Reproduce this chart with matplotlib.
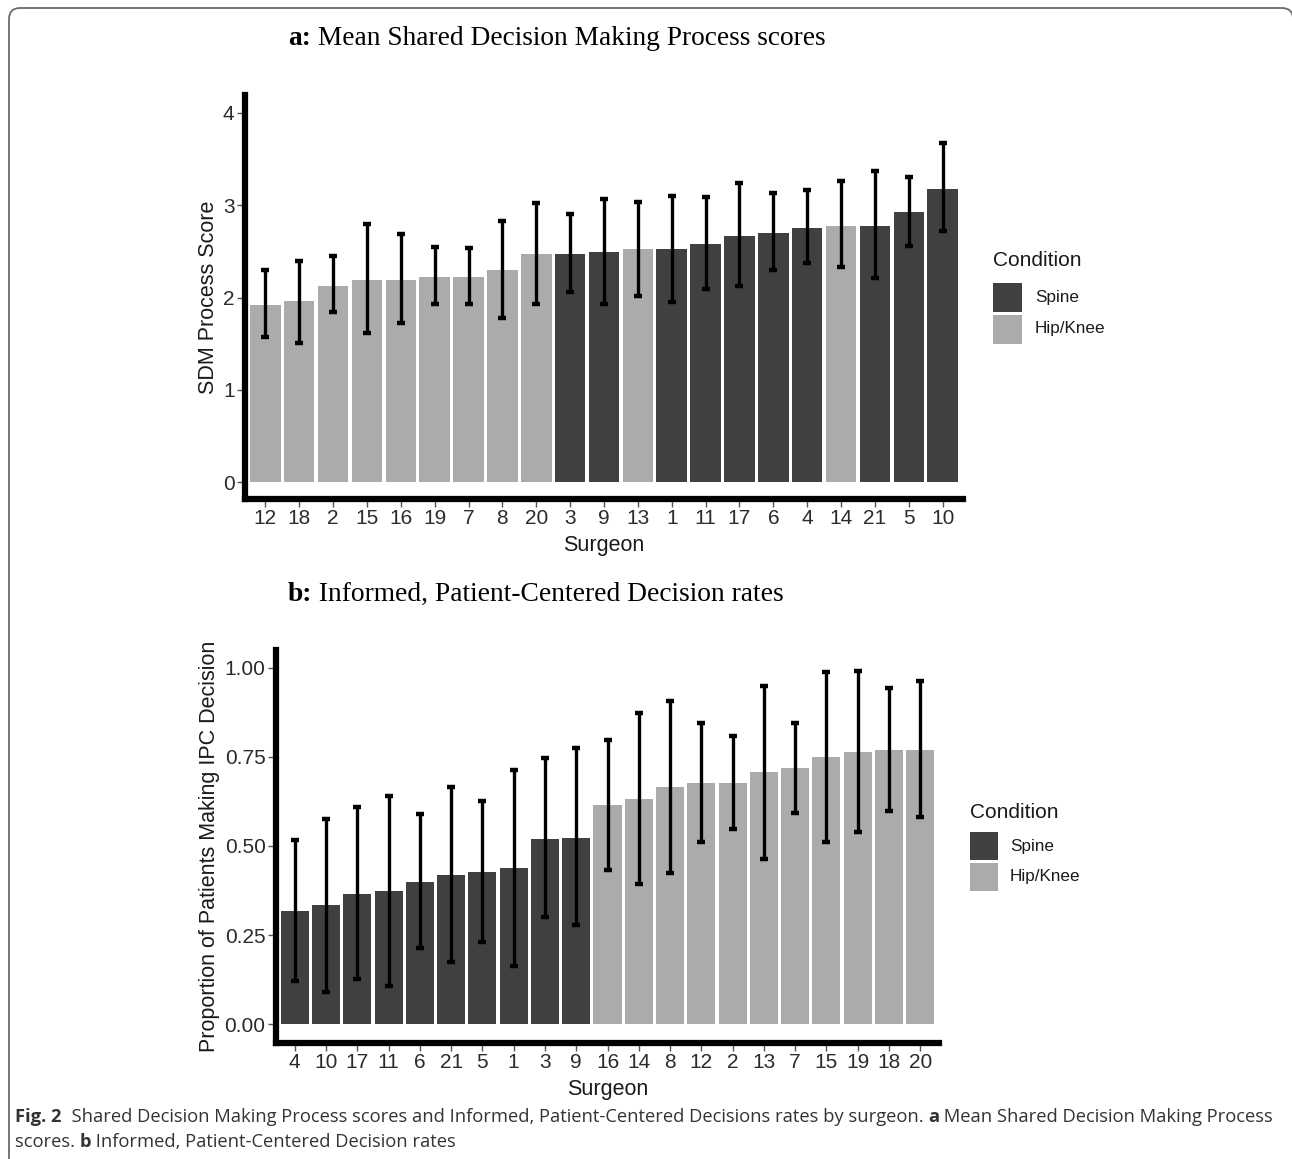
import matplotlib
matplotlib.use("Agg")
import matplotlib.pyplot as plt
from matplotlib.patches import FancyBboxPatch, Rectangle

# ---------------- data ----------------
surgeons_a = ["12", "18", "2", "15", "16", "19", "7", "8", "20", "3", "9",
              "13", "1", "11", "17", "6", "4", "14", "21", "5", "10"]
sdm_mean = [1.92, 1.96, 2.13, 2.19, 2.19, 2.22, 2.22, 2.30, 2.47, 2.47, 2.49,
            2.53, 2.53, 2.58, 2.67, 2.70, 2.75, 2.78, 2.78, 2.93, 3.18]
sdm_lo = [1.57, 1.51, 1.84, 1.61, 1.72, 1.93, 1.93, 1.78, 1.93, 2.06, 1.93,
          2.02, 1.95, 2.09, 2.13, 2.30, 2.37, 2.33, 2.21, 2.56, 2.72]
sdm_hi = [2.30, 2.40, 2.45, 2.80, 2.69, 2.55, 2.54, 2.83, 3.02, 2.90, 3.07,
          3.04, 3.10, 3.09, 3.24, 3.13, 3.16, 3.26, 3.37, 3.31, 3.67]
cond_a = ["Hip/Knee"] * 9 + ["Spine", "Spine", "Hip/Knee", "Spine", "Spine",
                             "Spine", "Spine", "Spine", "Hip/Knee", "Spine",
                             "Spine", "Spine"]

surgeons_b = ["4", "10", "17", "11", "6", "21", "5", "1", "3", "9", "16",
              "14", "8", "12", "2", "13", "7", "15", "19", "18", "20"]
ipc_mean = [0.318, 0.333, 0.366, 0.374, 0.400, 0.419, 0.426, 0.437, 0.520,
            0.523, 0.614, 0.632, 0.666, 0.677, 0.677, 0.707, 0.719, 0.749,
            0.763, 0.770, 0.770]
ipc_lo = [0.122, 0.091, 0.128, 0.108, 0.213, 0.175, 0.231, 0.162, 0.301,
          0.279, 0.433, 0.393, 0.424, 0.511, 0.549, 0.464, 0.592, 0.511,
          0.540, 0.597, 0.582]
ipc_hi = [0.517, 0.576, 0.610, 0.641, 0.589, 0.666, 0.626, 0.712, 0.746,
          0.775, 0.797, 0.872, 0.908, 0.844, 0.810, 0.949, 0.844, 0.989,
          0.992, 0.944, 0.964]
cond_b = ["Spine"] * 10 + ["Hip/Knee"] * 11

conditions = ["Spine", "Hip/Knee"]
yticks_a = [0, 1, 2, 3, 4]
yticks_b = [0.0, 0.25, 0.5, 0.75, 1.0]
ytick_labels_b = ["0.00", "0.25", "0.50", "0.75", "1.00"]

# ---------------- style ----------------
COLORS = {"Spine": "#404040", "Hip/Knee": "#ababab"}
SANS = "Liberation Sans"
SERIF = "Liberation Serif"
CAP = "Open Sans"
W, H = 1292, 1159

fig = plt.figure(figsize=(W / 100, H / 100), dpi=100)


def px_axes(l, t, r, b):
    return fig.add_axes([l / W, 1 - b / H, (r - l) / W, (b - t) / H])


def panel(ax, cats, mean, lo, hi, cond, ylim, yt, ytl, ylabel):
    x = list(range(len(cats)))
    ax.bar(x, mean, width=0.9, color=[COLORS[c] for c in cond], zorder=2)
    yerr = [[m - l for m, l in zip(mean, lo)], [h - m for m, h in zip(mean, hi)]]
    ax.errorbar(x, mean, yerr=yerr, fmt="none", ecolor="black", elinewidth=2.4,
                capsize=2.6, capthick=3.2, zorder=3)
    ax.set_xlim(-0.6, len(cats) - 0.4)
    ax.set_ylim(*ylim)
    ax.set_xticks(x)
    ax.set_xticklabels(cats, fontsize=15, family=SANS, color="#2b2b2b")
    ax.set_yticks(yt)
    ax.set_yticklabels(ytl, fontsize=15, family=SANS, color="#2b2b2b")
    for s in ["top", "right"]:
        ax.spines[s].set_visible(False)
    for s in ["left", "bottom"]:
        ax.spines[s].set_linewidth(4.5)
        ax.spines[s].set_color("black")
        ax.spines[s].set_capstyle("projecting")
    ax.tick_params(axis="both", length=6, width=1.0, color="#555555",
                   direction="out", pad=1.5)
    ax.set_xlabel("Surgeon", fontsize=15.5, family=SANS, color="#1a1a1a",
                  labelpad=5)
    ax.set_ylabel(ylabel, fontsize=15.5, family=SANS, color="#1a1a1a",
                  labelpad=3)


ax_a = px_axes(245, 95, 963, 499)
panel(ax_a, surgeons_a, sdm_mean, sdm_lo, sdm_hi, cond_a, (-0.184, 4.195),
      yticks_a, [str(v) for v in yticks_a], "SDM Process Score")

ax_b = px_axes(276, 650, 939, 1043)
panel(ax_b, surgeons_b, ipc_mean, ipc_lo, ipc_hi, cond_b, (-0.053, 1.05),
      yticks_b, ytick_labels_b, "Proportion of Patients Making IPC Decision")

# ---------------- overlay (pixel coords) ----------------
ov = fig.add_axes([0, 0, 1, 1], zorder=-1)
ov.set_xlim(0, W)
ov.set_ylim(H, 0)
ov.axis("off")
ov.add_patch(FancyBboxPatch((9, 8), 1284, 1300,
                            boxstyle="round,pad=0,rounding_size=11",
                            fill=False, edgecolor="#6a6a6a", lw=1.3,
                            clip_on=False))

renderer = fig.canvas.get_renderer()


def runs(x, y, parts, family, size, color="#222222", target_width=None):
    def draw(sz):
        arts = []
        cx = x
        for txt, wt in parts:
            t = ov.text(cx, y, txt, family=family, fontsize=sz, fontweight=wt,
                        color=color, va="baseline", ha="left")
            bb = t.get_window_extent(renderer)
            cx += bb.width
            arts.append(t)
        return arts, cx - x
    arts, width = draw(size)
    if target_width is not None:
        for a in arts:
            a.remove()
        size = size * target_width / width
        arts, width = draw(size)
    return size


runs(288, 45, [("a:", "bold"), (" Mean Shared Decision Making Process scores", "normal")],
     SERIF, 17, color="black", target_width=538)
runs(288, 601, [("b:", "bold"), (" Informed, Patient-Centered Decision rates", "normal")],
     SERIF, 17, color="black", target_width=495)

cap_size = runs(15, 1122, [("Fig. 2", "bold"),
                           ("  Shared Decision Making Process scores and Informed, Patient-Centered Decisions rates by surgeon. ", "normal"),
                           ("a", "bold"), (" Mean Shared Decision Making Process", "normal")],
                CAP, 11.5, color="#333333", target_width=1260)
runs(15, 1147, [("scores. ", "normal"), ("b", "bold"),
                (" Informed, Patient-Centered Decision rates", "normal")],
     CAP, cap_size, color="#333333")


# legends
def legend(x0, title_y, top, box, gap, text_x):
    ov.text(x0, title_y, "Condition", family=SANS, fontsize=15, color="#1a1a1a",
            va="center", ha="left")
    for i, c in enumerate(conditions):
        y = top + i * (box + gap)
        ov.add_patch(Rectangle((x0, y), box, box, facecolor=COLORS[c],
                               edgecolor="none"))
        ov.text(text_x, y + box / 2, c, family=SANS, fontsize=12.3,
                color="#1a1a1a", va="center", ha="left")


legend(993, 261, 283, 29, 2.5, 1035)
legend(970, 812, 832, 28, 3, 1010)

fig.savefig("out.png", dpi=100)
